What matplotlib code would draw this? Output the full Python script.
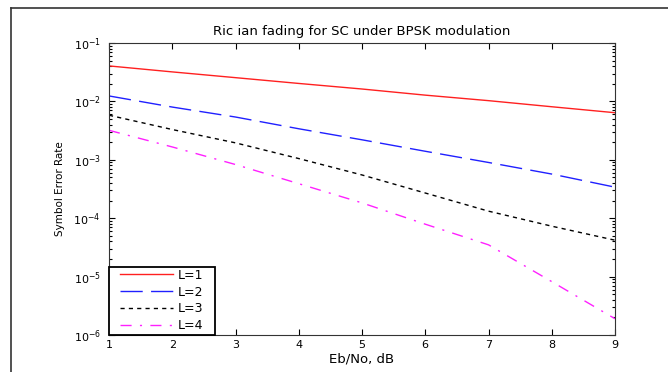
import numpy as np
import matplotlib.pyplot as plt
from matplotlib.lines import Line2D
from matplotlib.patches import Rectangle
from matplotlib.ticker import LogLocator, NullFormatter

# Eb/No in dB and symbol error rates
ebno = [1, 2, 3, 4, 5, 6, 7, 8, 9]
ser_l1 = [0.0405, 0.0320, 0.0255, 0.0203, 0.0163, 0.0128, 0.0103, 0.0081, 0.0064]
ser_l2 = [0.0124, 0.0080, 0.0054, 0.0034, 0.0022, 0.0014, 0.00090, 0.00057, 0.00034]
ser_l3 = [0.0058, 0.0033, 0.00195, 0.00105, 0.00055, 0.00027, 0.000132, 0.000073, 0.000042]
ser_l4 = [0.0032, 0.00166, 0.00083, 0.00039, 0.000183, 0.000079, 0.000035, 0.0000082, 0.0000019]
labels = ['L=1', 'L=2', 'L=3', 'L=4']

plt.rcParams['font.family'] = ['DejaVu Sans']

fig = plt.figure(figsize=(6.68, 3.72), dpi=100)
ax = fig.add_axes([109 / 668, 37 / 372, 506 / 668, 292 / 372])

ax.semilogy(ebno, ser_l1, color='#ff2020', linestyle='-', linewidth=1.0, label=labels[0])
ax.semilogy(ebno, ser_l2, color='#2020ff', linestyle=(0, (16, 6)), linewidth=1.0, label=labels[1])
ax.semilogy(ebno, ser_l3, color='black', linestyle=(0, (3, 3)), linewidth=1.0, label=labels[2])
ax.semilogy(ebno, ser_l4, color='#ff20ff', linestyle=(0, (8, 6, 1.5, 6)), linewidth=1.0, label=labels[3])

ax.set_xlim(1, 9)
ax.set_ylim(1e-6, 1e-1)
ax.set_xticks(range(1, 10))
ax.yaxis.set_major_locator(LogLocator(base=10, numticks=10))
ax.yaxis.set_minor_locator(LogLocator(base=10, subs=np.arange(2, 10), numticks=10))
ax.yaxis.set_minor_formatter(NullFormatter())
ax.tick_params(which='both', direction='in', top=True, right=True, labelsize=8)
ax.tick_params(axis='y', pad=6)
ax.tick_params(which='major', length=4, width=0.8)
ax.tick_params(which='minor', length=2.5, width=0.8)
for s in ax.spines.values():
    s.set_linewidth(0.8)
    s.set_color('#333333')

ax.set_title('Ric ian fading for SC under BPSK modulation', fontsize=9.5, pad=6)
ax.set_xlabel('Eb/No, dB', fontsize=9.5, labelpad=2)
ax.set_ylabel('Symbol Error Rate', fontsize=7.5, labelpad=6)

# legend box drawn separately so the padding matches the original
ax.add_patch(Rectangle((0, 0), 106 / 506, 68 / 292, transform=ax.transAxes,
                       facecolor='white', edgecolor='black', linewidth=1.3,
                       clip_on=False, zorder=4))
leg = ax.legend(loc='lower left', bbox_to_anchor=(11 / 506, 3 / 292), fontsize=9,
                frameon=False, borderaxespad=0, borderpad=0, handlelength=4.2,
                labelspacing=0.3, handletextpad=0.4)
leg.set_zorder(5)

# outer border lines of the original screenshot
fig.add_artist(Line2D([11 / 668, 11 / 668], [0, 1 - 8 / 372], color='#333333', linewidth=1.2))
fig.add_artist(Line2D([11 / 668, 1], [1 - 8 / 372, 1 - 8 / 372], color='#333333', linewidth=1.2))

fig.savefig('out.png', dpi=100)
